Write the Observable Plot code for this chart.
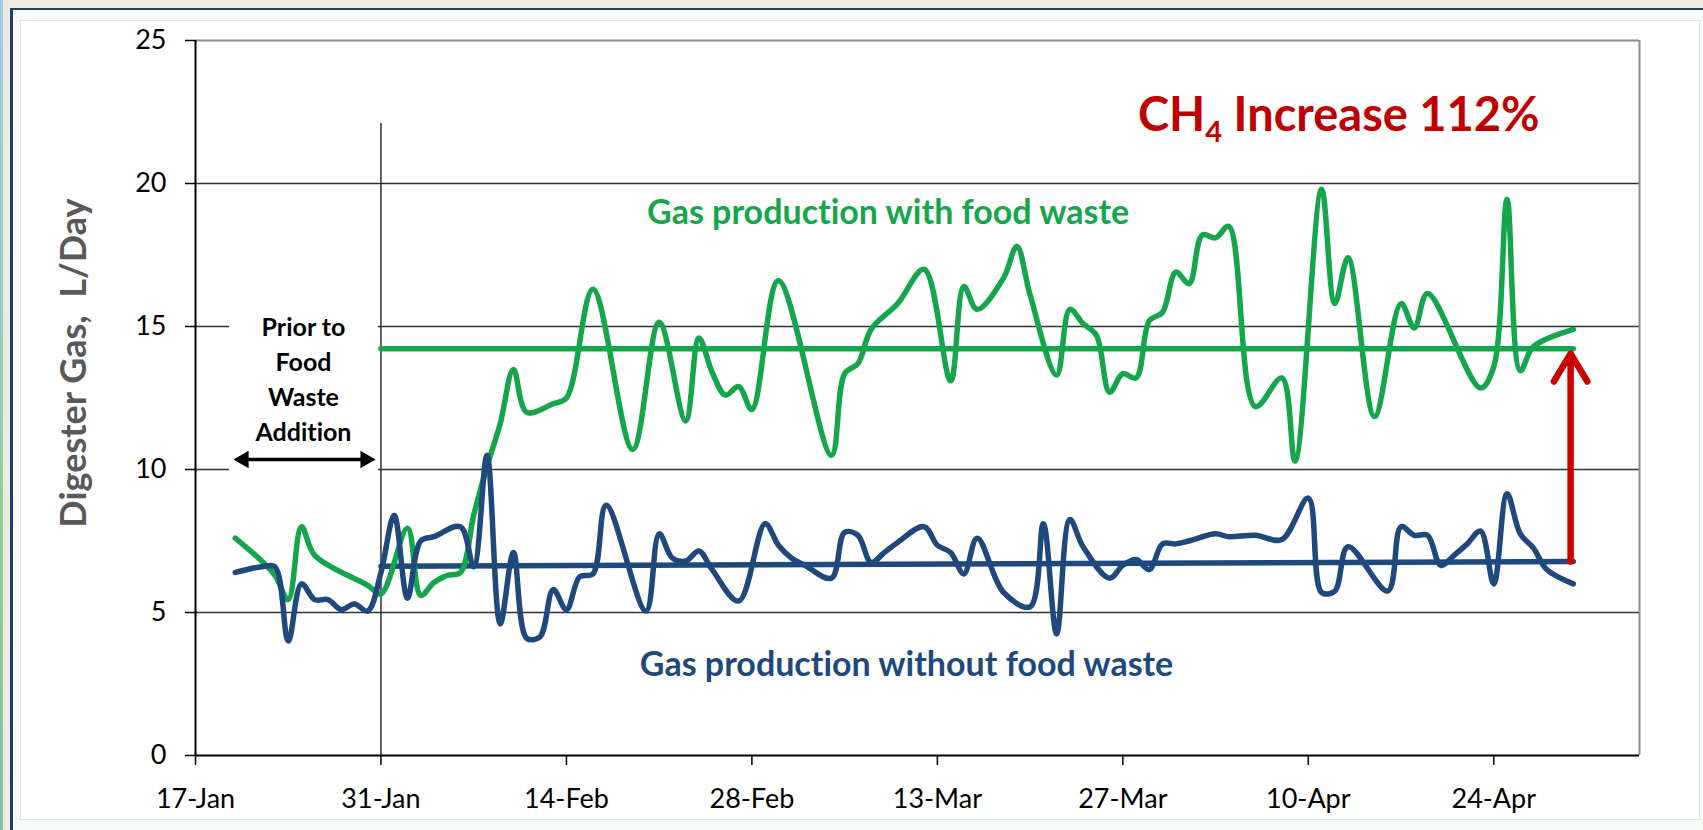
<!DOCTYPE html>
<html><head><meta charset="utf-8">
<script src="https://cdn.jsdelivr.net/npm/d3@7"></script>
<script src="https://cdn.jsdelivr.net/npm/@observablehq/plot@0.6"></script>
<style>
html,body{margin:0;padding:0;width:1703px;height:830px;overflow:hidden;background:#eeece2;}
#strip{position:absolute;left:0;top:0;width:3px;height:830px;background:linear-gradient(#a9c8e8,#8ccf9c 60%,#7fc29a);}
#frame{position:absolute;left:10px;top:8px;width:1693px;height:822px;box-sizing:border-box;border-left:3px solid #243f60;border-top:2px solid #243f60;background:#f8faf6;}
#panel{position:absolute;left:20px;top:20px;width:1680px;height:800px;box-sizing:border-box;border:1px solid #dfe5ea;background:#fff;}
#chart{position:absolute;left:0;top:0;}
#chart text{font-variant-ligatures:none;}
</style></head><body>
<div id="strip"></div><div id="frame"></div><div id="panel"></div><div id="chart"></div>
<script>
// ---- data ----
const startDate = "2012-01-17";   // x axis start (day 0)
const endDate = "2012-05-05";     // x axis end
const tickLabels = ["17-Jan","31-Jan","14-Feb","28-Feb","13-Mar","27-Mar","10-Apr","24-Apr"];
const yTicks = [0,5,10,15,20,25];

// days after 17-Jan and daily gas (L/Day)
const withFoodDays = [3,5,6,7,8,9,13,14,16,17,18,19,20,21,22,23,24,25,27,28,30,33,35,37,38,39,40,41,42,44,48,49,50,51,53,55,57,58,59,61,62,63,65,66,67,68,69,70,71,72,73,74,75,76,77,78,80,82,83,85,86,87,89,91,92,93,97,98,99,100,101,104];
const withFoodGas = [7.6,6.8,6.3,5.45,8.0,7.0,5.95,5.65,7.95,5.6,6.05,6.3,6.4,8.4,10.1,11.6,13.5,12.0,12.3,12.5,16.3,10.7,15.15,11.7,14.6,13.4,12.6,12.9,12.1,16.6,10.5,13.35,13.7,14.9,15.8,17.0,13.1,16.4,15.6,16.7,17.8,16.1,13.3,15.6,15.1,14.7,12.7,13.35,13.2,15.2,15.5,16.9,16.5,18.2,18.1,18.5,12.2,13.2,10.3,19.8,15.8,17.4,11.85,15.8,14.95,16.15,12.85,13.6,19.45,13.45,14.3,14.9];

const withoutFoodDays = [3,5,6,7,8,9,10,11,12,13,14,15,16,17,18,20,21,22,23,24,25,26,27,28,29,30,31,34,35,36,37,38,39,41,43,44,45,46,48,49,50,51,52,53,55,56,57,58,59,61,63,64,65,66,67,69,70,71,72,73,74,75,77,78,80,82,84,85,86,87,90,91,92,93,94,95,96,97,98,99,100,101,102,104];
const withoutFoodGas = [6.4,6.6,6.6,4.0,6.0,5.45,5.45,5.1,5.3,5.05,6.4,8.4,5.5,7.5,7.65,8.0,6.6,10.5,4.6,7.1,4.1,4.15,5.8,5.1,6.25,6.35,8.75,5.05,7.75,6.9,6.8,7.15,6.5,5.4,8.1,7.35,6.9,6.65,6.2,7.8,7.7,6.75,7.1,7.45,8.0,7.35,7.1,6.35,7.6,5.7,5.2,8.1,4.25,8.25,7.3,6.2,6.65,6.85,6.5,7.4,7.4,7.5,7.75,7.65,7.7,7.55,9.0,5.7,5.75,7.3,5.75,8.0,7.7,7.7,6.65,7.0,7.4,7.85,6.0,9.15,7.75,7.25,6.5,6.0];

// average lines (days after 17-Jan, level)
const meanDays = [14, 104];
const meanWithFood = [14.22, 14.22];
const meanWithoutFood = [6.62, 6.78];

// annotation texts
const yTitle = "Digester Gas,  L/Day";
const labelWith = "Gas production with food waste";
const labelWithout = "Gas production without food waste";
const increaseLabel = "CH4 Increase 112%";
const priorLabel = "Prior to\nFood\nWaste\nAddition";

// ---- helpers ----
const t0 = Date.parse(startDate + "T00:00:00Z");
const day = d => new Date(t0 + d * 864e5);
const parseTick = d3.utcParse("%d-%b-%Y");
const tickDates = tickLabels.map(s => parseTick(s + "-2012"));
const toRows = (days, vals) => days.map((d, i) => ({date: day(d), v: vals[i]}));

const green = "#15a64c", blue = "#1f497d", red = "#c00000";

const chart = Plot.plot({
  width: 1703, height: 830,
  marginLeft: 195, marginRight: 64, marginTop: 40, marginBottom: 75,
  style: {fontFamily: "Lato, sans-serif", background: "transparent", color: "#000", overflow: "visible"},
  x: {type: "utc", domain: [new Date(startDate), new Date(endDate)]},
  y: {domain: [0, 25]},
  marks: [
    Plot.ruleY([5, 10, 15, 20], {stroke: "#333", strokeWidth: 1.5}),
    Plot.ruleY([25], {stroke: "#8c8c8c", strokeWidth: 2}),
    Plot.ruleX([new Date(endDate)], {stroke: "#8c8c8c", strokeWidth: 2}),
    // white label box interrupting the grid
    Plot.rect([{a: day(2.57), b: day(13.81), lo: 9.6, hi: 15.9}], {x1: "a", x2: "b", y1: "lo", y2: "hi", fill: "white"}),
    // divider at 31-Jan
    Plot.ruleX([tickDates[1]], {y1: 0, y2: 22.1, stroke: "#222", strokeWidth: 1.4}),
    Plot.axisY(yTicks, {tickSize: 10, tickPadding: 19, fontSize: 27, label: null, stroke: "#000", strokeWidth: 1.5}),
    Plot.axisX(tickDates, {tickFormat: d3.utcFormat("%-d-%b"), tickSize: 10, tickPadding: 23, fontSize: 27, label: null, stroke: "#000", strokeWidth: 1.5}),
    Plot.ruleX([new Date(startDate)], {stroke: "#000", strokeWidth: 2}),
    Plot.ruleY([0], {stroke: "#000", strokeWidth: 2}),
    // averages
    Plot.line(toRows(meanDays, meanWithFood), {x: "date", y: "v", stroke: green, strokeWidth: 5.5}),
    Plot.line(toRows(meanDays, meanWithoutFood), {x: "date", y: "v", stroke: blue, strokeWidth: 5.5}),
    // daily series
    Plot.line(toRows(withFoodDays, withFoodGas), {x: "date", y: "v", stroke: green, strokeWidth: 5.5, curve: "catmull-rom", strokeLinejoin: "round"}),
    Plot.line(toRows(withoutFoodDays, withoutFoodGas), {x: "date", y: "v", stroke: blue, strokeWidth: 5.5, curve: "catmull-rom", strokeLinejoin: "round"}),
    // red increase arrow
    Plot.arrow([{x: day(103.8), a: meanWithoutFood[1], b: 14.05}], {x1: "x", x2: "x", y1: "a", y2: "b", stroke: "#cc0000", strokeWidth: 6.5, headLength: 7.5, headAngle: 62}),
    // black double arrow
    Plot.link([{a: day(3.63), b: day(12.83), y: 10.35}], {x1: "a", x2: "b", y1: "y", y2: "y", stroke: "#000", strokeWidth: 3.5}),
    Plot.dot([{x: day(3.63), y: 10.35, r: -90}, {x: day(12.83), y: 10.35, r: 90}], {x: "x", y: "y", rotate: "r", symbol: "triangle", r: 6.5, fill: "#000", stroke: "none"}),
    // texts
    Plot.text([priorLabel], {x: day(8.15), y: 13.22, fontSize: 25, fontWeight: "bold", fill: "#000", lineHeight: 1.4, textAnchor: "middle"}),
    Plot.text([labelWith], {x: day(52.28), y: 18.97, fontSize: 34, fontWeight: "bold", fill: green, textAnchor: "middle"}),
    Plot.text([labelWithout], {x: day(53.67), y: 3.16, fontSize: 34, fontWeight: "bold", fill: blue, textAnchor: "middle"}),
    Plot.text([increaseLabel], {x: day(86.3), y: 21.85, fontSize: 47, fontWeight: "bold", fill: red, textAnchor: "middle", lineAnchor: "bottom"}),
    Plot.text([yTitle], {frameAnchor: "left", y: 13.72, dx: -121, rotate: -90, fontSize: 36, fontWeight: "bold", fill: "#595959", textAnchor: "middle"})
  ]
});

// subscript 4 in CH4
d3.select(chart).selectAll("text").filter(function () { return this.textContent === increaseLabel; }).each(function () {
  const t = d3.select(this);
  t.text(null);
  t.append("tspan").text("CH");
  t.append("tspan").attr("font-size", "62%").attr("dy", 11).text("4");
  t.append("tspan").attr("dy", -11).text(" Increase 112%");
});
d3.select(chart).selectAll("text").filter(function () { return this.textContent === yTitle; }).style("white-space", "pre");

document.getElementById("chart").appendChild(chart);
</script></body></html>
